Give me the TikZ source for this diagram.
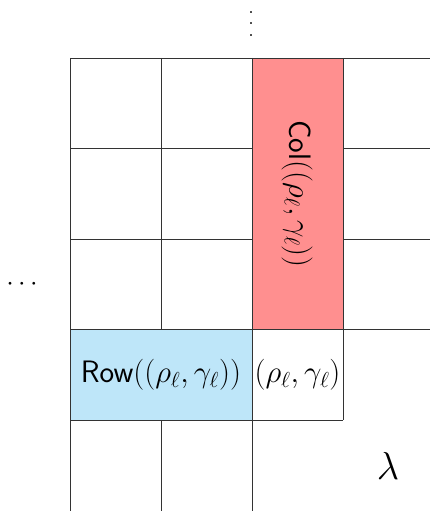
\RequirePackage{fix-cm}
\documentclass[tikz,border=0pt]{standalone}
\definecolor{colred}{RGB}{255,143,143}
\definecolor{rowblue}{RGB}{190,230,249}
\tikzset{
  gridline/.style={draw=black!80, line width=0.9pt},
  boxfill/.style={draw=black!80, line width=0.9pt},
  bigtext/.style={font=\fontsize{31}{36}\selectfont, inner sep=0pt},
  celltext/.style={font=\fontsize{31}{36}\selectfont, inner sep=0pt}
}
\newcommand{\myvdots}{\vbox{\baselineskip=11.5pt\lineskiplimit=0pt\hbox{.}\hbox{.}\hbox{.}}}
\begin{document}
\begin{tikzpicture}[x=1pt,y=-1pt]
\useasboundingbox (0,0) rectangle (430,511);
\begin{scope}
\clip (0,0) rectangle (430,511);
% grid
\foreach \yy in {58,148,239,329} \draw[gridline] (70,\yy) -- (440,\yy);
\draw[gridline] (70,420) -- (343,420);
\foreach \xx in {70,161,252} \draw[gridline] (\xx,58) -- (\xx,520);
\draw[gridline] (343,58) -- (343,420);
% filled boxes over the grid
\draw[boxfill, fill=colred] (252,58) rectangle (343,329);
\draw[boxfill, fill=rowblue] (70,329) rectangle (252,420);
\end{scope}
% texts
\node[bigtext, rotate=-90] (col) at (297,194) {\textsf{Col}$((\rho_\ell,\gamma_\ell))$};
\node[bigtext] (row) at (161,375) {\textsf{Row}$((\rho_\ell,\gamma_\ell))$};
\node[celltext] (cell) at (297.5,375) {$(\rho_\ell,\gamma_\ell)$};
\node[font=\fontsize{39}{44}\selectfont, inner sep=0pt] (lam) at (388,466) {$\lambda$};
\node[font=\fontsize{24}{28}\selectfont, inner sep=0pt] (vd) at (251,24) {\myvdots};
\node[font=\fontsize{27}{32}\selectfont, inner sep=0pt] (hd) at (22,284) {$\cdots$};
\end{tikzpicture}
\end{document}
